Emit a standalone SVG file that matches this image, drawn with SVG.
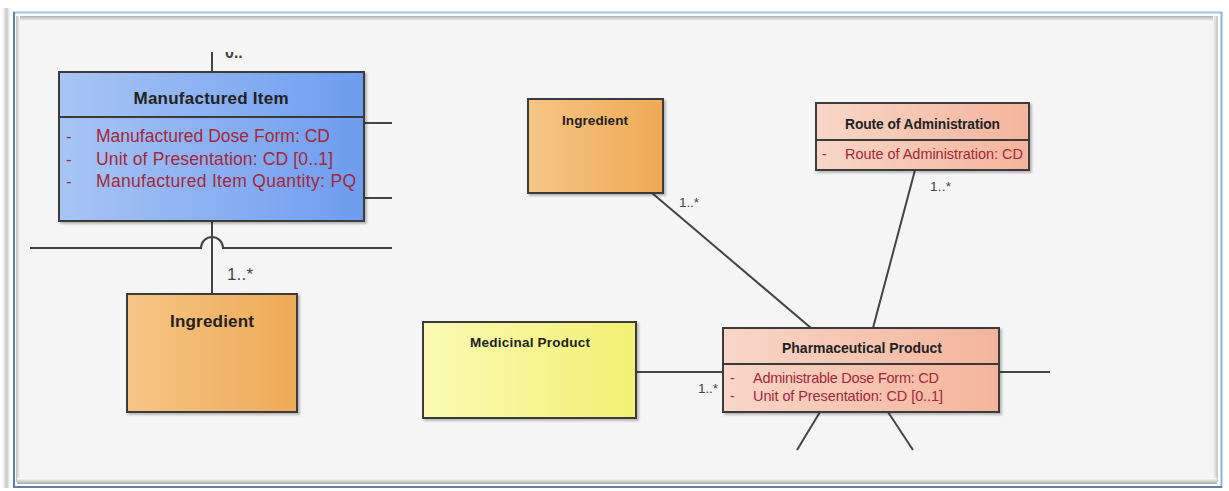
<svg xmlns="http://www.w3.org/2000/svg" width="1229" height="491" viewBox="0 0 1229 491">
<defs>
<linearGradient id="gBlue" x1="0" y1="0" x2="1" y2="0"><stop offset="0" stop-color="#a8c5f5"/><stop offset="1" stop-color="#6d9cef"/></linearGradient>
<linearGradient id="gOrange" x1="0" y1="0" x2="1" y2="0"><stop offset="0" stop-color="#f6c585"/><stop offset="1" stop-color="#eeaa56"/></linearGradient>
<linearGradient id="gSalmon" x1="0" y1="0" x2="1" y2="0"><stop offset="0" stop-color="#f8d6c8"/><stop offset="1" stop-color="#f4b49b"/></linearGradient>
<linearGradient id="gYellow" x1="0" y1="0" x2="1" y2="0"><stop offset="0" stop-color="#fafab4"/><stop offset="1" stop-color="#f2f072"/></linearGradient>
<linearGradient id="gShadowL" x1="0" y1="0" x2="1" y2="0"><stop offset="0" stop-color="#ffffff"/><stop offset="0.6" stop-color="#c8c8c8"/><stop offset="1" stop-color="#ffffff"/></linearGradient>
<linearGradient id="gTopIn" x1="0" y1="0" x2="0" y2="1"><stop offset="0" stop-color="#b0b0b0"/><stop offset="1" stop-color="#f5f5f5"/></linearGradient>
<linearGradient id="gLeftIn" x1="0" y1="0" x2="1" y2="0"><stop offset="0" stop-color="#c0c0c0"/><stop offset="1" stop-color="#f5f5f5"/></linearGradient>
<linearGradient id="gRightIn" x1="0" y1="0" x2="1" y2="0"><stop offset="0" stop-color="#f5f5f5"/><stop offset="1" stop-color="#c4c4c4"/></linearGradient>
<linearGradient id="gBotIn" x1="0" y1="0" x2="0" y2="1"><stop offset="0" stop-color="#ffffff"/><stop offset="1" stop-color="#a8a8a8"/></linearGradient>
<filter id="sh" x="-5%" y="-5%" width="110%" height="115%"><feDropShadow dx="2" dy="2" stdDeviation="1" flood-color="#000" flood-opacity="0.25"/></filter>
<clipPath id="clipTop"><rect x="17" y="52" width="1200" height="430"/></clipPath>
<style>
.box{stroke:#3a3a3a;stroke-width:2;filter:url(#sh)}
.div{stroke:#3a3a3a;stroke-width:2}
.ln{stroke:#444;stroke-width:2;fill:none}
.t{font-family:"Liberation Sans",Arial,sans-serif;font-weight:bold;fill:#222;text-anchor:middle}
.a{font-family:"Liberation Sans",Arial,sans-serif;fill:#a3283b}
.m{font-family:"Liberation Sans",Arial,sans-serif;fill:#444}
</style>
</defs>

<!-- frame -->
<rect x="0" y="0" width="1229" height="491" fill="#ffffff"/>
<rect x="2" y="8" width="8" height="480" fill="url(#gShadowL)"/>
<rect x="17" y="18" width="1200" height="464" fill="#f5f5f5"/>
<rect x="17" y="16" width="1200" height="5" fill="url(#gTopIn)"/>
<rect x="16" y="16" width="4" height="466" fill="url(#gLeftIn)"/>
<rect x="1213" y="16" width="5" height="466" fill="url(#gRightIn)"/>
<rect x="17" y="478" width="1200" height="6" fill="url(#gBotIn)"/>
<line x1="13" y1="12.5" x2="1222" y2="12.5" stroke="#9dc1ea" stroke-width="2"/>
<line x1="1221.5" y1="12" x2="1221.5" y2="488" stroke="#8fb2df" stroke-width="2"/>
<line x1="14" y1="12" x2="14" y2="488" stroke="#5d7fa8" stroke-width="2"/>
<line x1="13" y1="487" x2="1222" y2="487" stroke="#5d7fa8" stroke-width="2"/>

<!-- connectors -->
<g id="connectors">
<g clip-path="url(#clipTop)">
<line class="ln" x1="212" y1="40" x2="212" y2="72"/>
<text class="m" x="225" y="58" font-size="16" font-weight="bold">0..</text>
</g>
<line class="ln" x1="212" y1="221" x2="212" y2="294"/>
<path class="ln" d="M30 248 H201 A11 11 0 0 1 223 248 H392"/>
<line class="ln" x1="364" y1="123" x2="392" y2="123"/>
<line class="ln" x1="364" y1="198" x2="392" y2="198"/>
<text class="m" x="227" y="280" font-size="17" textLength="26">1..*</text>
<line class="ln" x1="652" y1="193" x2="811" y2="328"/>
<text class="m" x="679" y="207" font-size="13.5" textLength="20">1..*</text>
<line class="ln" x1="915" y1="170" x2="873" y2="328"/>
<text class="m" x="930" y="191" font-size="13.5" textLength="21">1..*</text>
<line class="ln" x1="636" y1="372" x2="723" y2="372"/>
<text class="m" x="698" y="393" font-size="13.5" textLength="20">1..*</text>
<line class="ln" x1="999" y1="372" x2="1050" y2="372"/>
<line class="ln" x1="820" y1="412" x2="797" y2="450"/>
<line class="ln" x1="888" y1="412" x2="913" y2="450"/>
</g>

<g id="manufactured-item">
<rect class="box" x="59" y="72" width="305" height="149" fill="url(#gBlue)"/>
<line class="div" x1="59" y1="117" x2="364" y2="117"/>
<text class="t" x="211" y="104" font-size="17" textLength="155">Manufactured Item</text>
<text class="a" x="66" y="142" font-size="17">-</text>
<text class="a" x="96" y="142" font-size="17.5" textLength="234">Manufactured Dose Form: CD</text>
<text class="a" x="66" y="165" font-size="17">-</text>
<text class="a" x="96" y="165" font-size="17.5" textLength="237">Unit of Presentation: CD [0..1]</text>
<text class="a" x="66" y="187" font-size="17">-</text>
<text class="a" x="96" y="187" font-size="17.5" textLength="260">Manufactured Item Quantity: PQ</text>
</g>

<g id="ingredient-left">
<rect class="box" x="127" y="294" width="170" height="118" fill="url(#gOrange)"/>
<text class="t" x="212" y="327" font-size="17" textLength="84">Ingredient</text>
</g>

<g id="ingredient-right">
<rect class="box" x="528" y="99" width="135" height="94" fill="url(#gOrange)"/>
<text class="t" x="595" y="125" font-size="13.5" textLength="66">Ingredient</text>
</g>

<g id="route-of-administration">
<rect class="box" x="816" y="103" width="213" height="67" fill="url(#gSalmon)"/>
<line class="div" x1="816" y1="140" x2="1029" y2="140"/>
<text class="t" x="922.5" y="129" font-size="13.8" textLength="155">Route of Administration</text>
<text class="a" x="822" y="159" font-size="14">-</text>
<text class="a" x="845" y="159" font-size="14.5" textLength="178">Route of Administration: CD</text>
</g>

<g id="medicinal-product">
<rect class="box" x="423" y="322" width="213" height="96" fill="url(#gYellow)"/>
<text class="t" x="530" y="347" font-size="13.5" textLength="120">Medicinal Product</text>
</g>

<g id="pharmaceutical-product">
<rect class="box" x="723" y="328" width="276" height="84" fill="url(#gSalmon)"/>
<line class="div" x1="723" y1="364" x2="999" y2="364"/>
<text class="t" x="862" y="353" font-size="14" textLength="160">Pharmaceutical Product</text>
<text class="a" x="730" y="383" font-size="14">-</text>
<text class="a" x="753" y="383" font-size="14.5" textLength="186">Administrable Dose Form: CD</text>
<text class="a" x="730" y="401" font-size="14">-</text>
<text class="a" x="753" y="401" font-size="14.5" textLength="190">Unit of Presentation: CD [0..1]</text>
</g>
</svg>
